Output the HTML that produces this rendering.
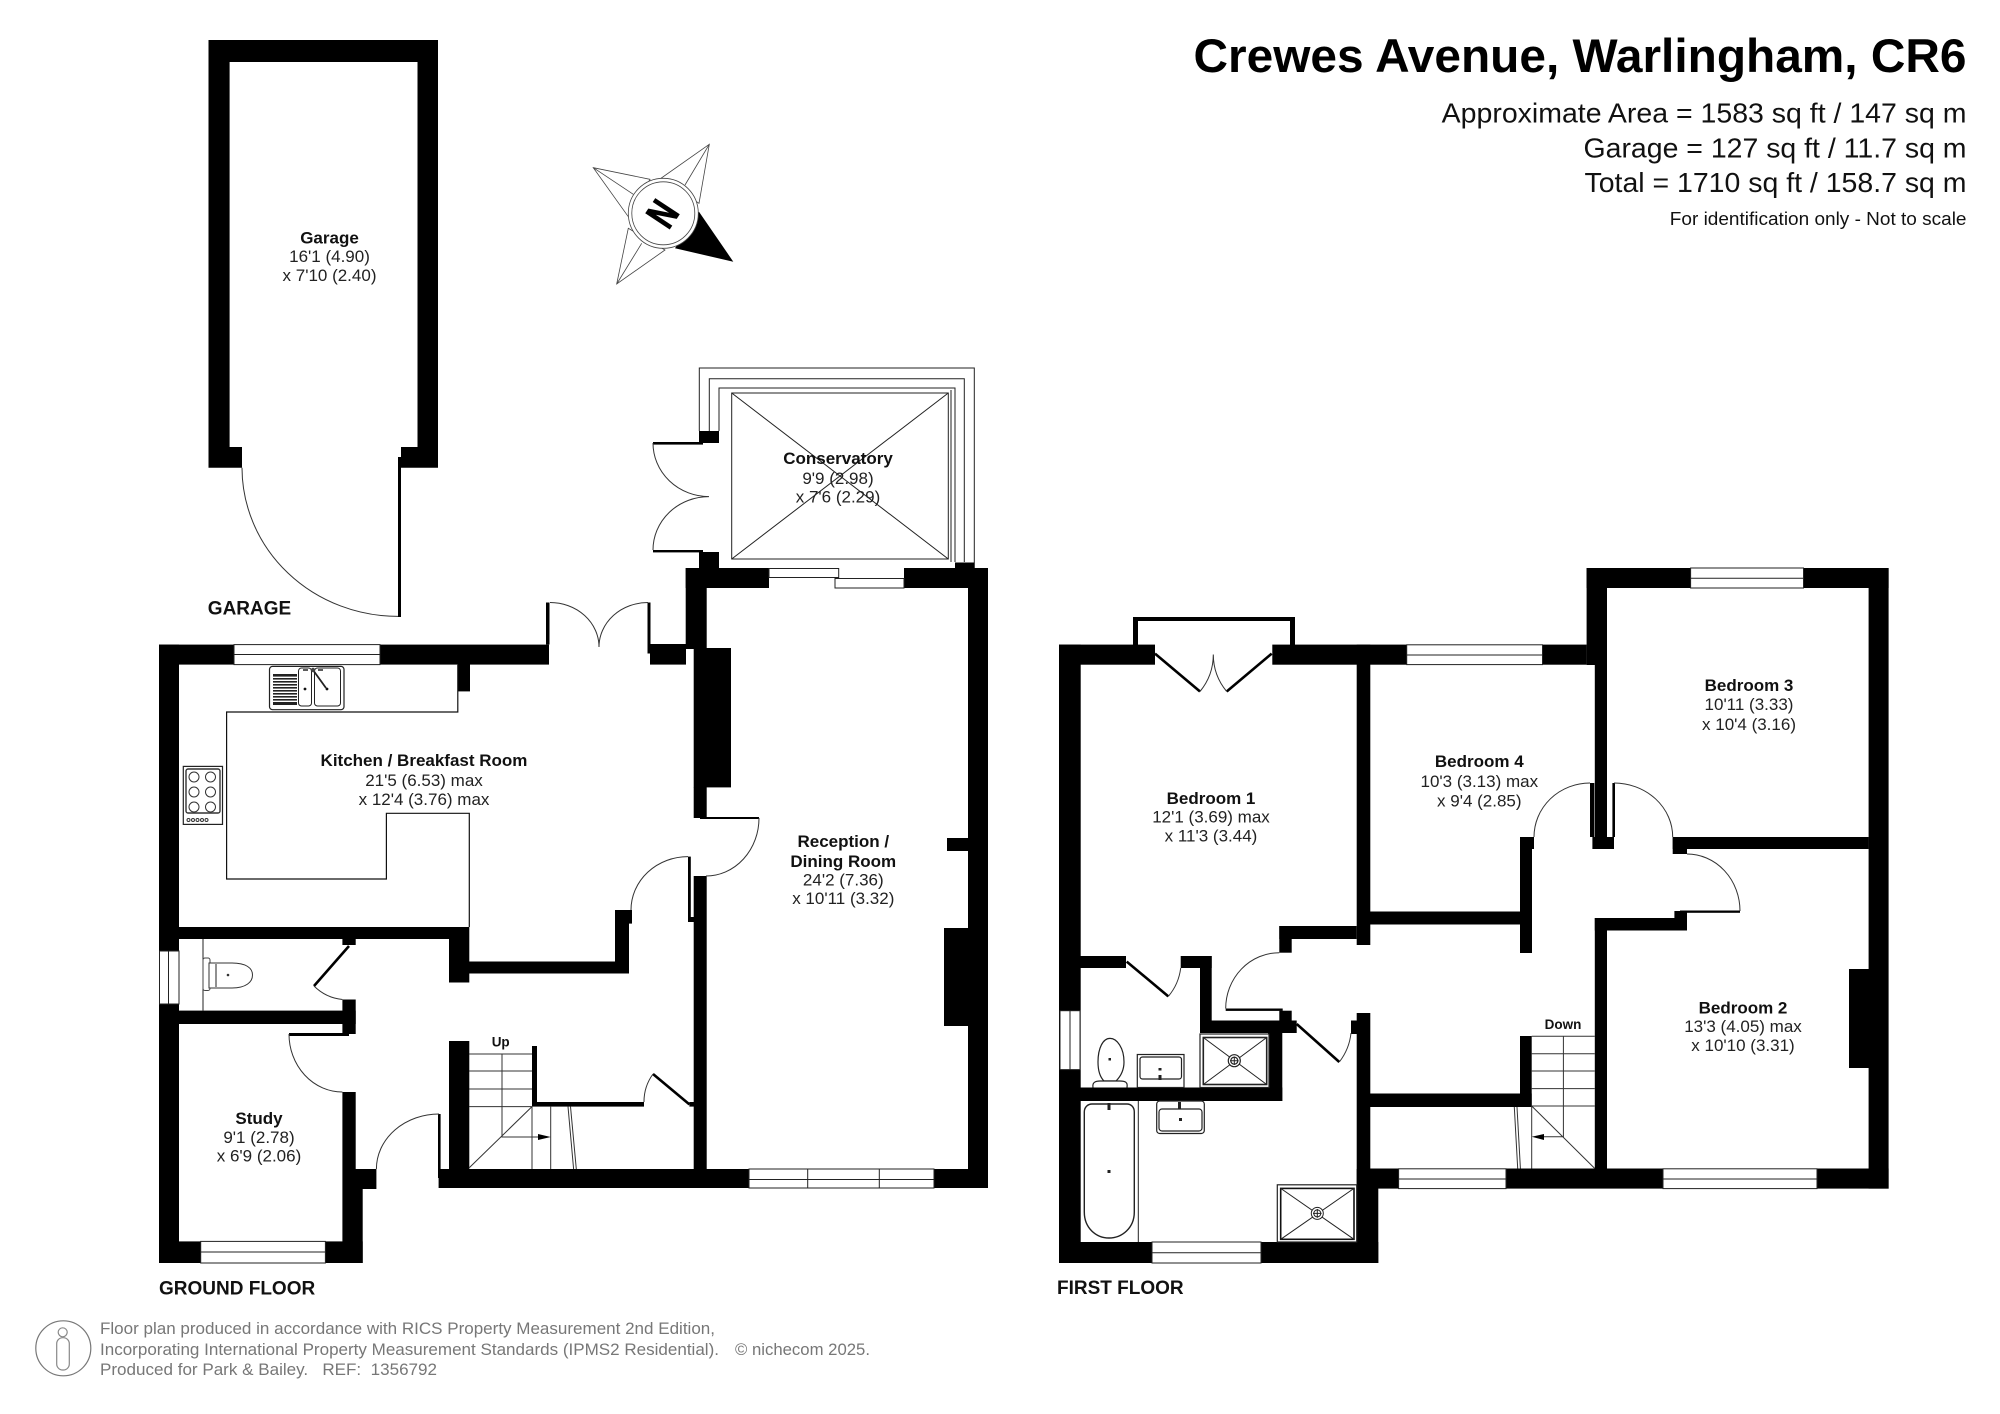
<!DOCTYPE html>
<html><head><meta charset="utf-8"><style>
html,body{margin:0;padding:0;background:#fff}
svg{display:block}
text{font-family:"Liberation Sans",sans-serif;fill:#1a1a1a}
.b{font-weight:bold;font-size:17px;fill:#111}
.t{font-size:17px;fill:#222}
.r{text-anchor:middle}
.k{fill:#000}
.w{fill:#fff;stroke:#222;stroke-width:1}
.l{fill:none;stroke:#222;stroke-width:1}
.a{fill:none;stroke:#333;stroke-width:1}
.f{fill:#fff;stroke:#111;stroke-width:1.4}
.g{font-size:17px;fill:#777}
</style></head><body>
<svg xmlns="http://www.w3.org/2000/svg" width="2000" height="1414" viewBox="0 0 2000 1414">
<rect width="2000" height="1414" fill="#fff"/>

<!-- Garage -->
<path class="k" d="M208.5 40H438V467.7H401V447H417.5V62H229.6V447H242V467.7H208.5Z"/>
<rect class="k" x="398" y="457" width="3" height="160"/>
<path class="a" d="M242 467.7A156 149 0 0 0 398 616.4"/>

<!-- Compass -->
<g fill="#fff" stroke="#444" stroke-width=".8">
<path d="M709.3 144.3L661 178.3 699 203.3ZM593.3 167.7L650 179.3 628.3 216.7ZM616.7 284L628.3 228.3 665 250Z"/>
<path d="M709.3 144.3L685 185M593.3 167.7L633.3 194.3M616.7 284L641.7 243.3"/>
</g>
<path class="k" d="M733.3 261.7L675 248.3 699 211.7Z"/>
<circle cx="663.3" cy="213.3" r="35" fill="#fff" stroke="#444" stroke-width=".8"/>
<circle cx="663.3" cy="213.3" r="31.5" fill="#fff" stroke="#444" stroke-width=".8"/>
<text transform="translate(663.3,214.3) rotate(123.5) scale(.72,1)" y="15" text-anchor="middle" style="font-size:41px;font-weight:bold;fill:#000;stroke:#000;stroke-width:1.2">N</text>

<!-- Conservatory -->
<path class="l" d="M699.3 431V368H974.3V568M709.3 431V378.7H964.3V562M719 431V388H955V562"/>
<rect class="l" x="731.7" y="393" width="216.6" height="166" stroke-width="1.2"/>
<path class="l" d="M731.7 393L948.3 559M948.3 393L731.7 559M951 390V562"/>
<rect class="k" x="699" y="431" width="20" height="12"/>
<rect class="k" x="699" y="552" width="20" height="16"/>
<rect class="k" x="653" y="442" width="50" height="2.6"/>
<rect class="k" x="653" y="550" width="50" height="2.4"/>
<rect class="k" x="955" y="562.5" width="19.3" height="6"/>
<path class="a" d="M653 443A56 53.6 0 0 0 709 496.6A56 53.4 0 0 0 653 550"/>

<!-- Ground floor walls -->
<g class="k">
<rect x="159" y="644.6" width="390" height="20"/>
<rect x="159" y="644.6" width="20" height="618.4"/>
<rect x="546" y="602.5" width="3.5" height="42"/>
<rect x="647.5" y="602.5" width="3" height="51"/>
<rect x="650" y="644" width="36" height="20.6"/>
<rect x="458" y="664" width="12" height="27.4"/>
<rect x="159" y="927" width="310.3" height="12"/>
<rect x="449" y="939" width="20.3" height="43.5"/>
<rect x="469" y="961.5" width="160" height="12"/>
<rect x="615" y="910" width="14" height="63"/>
<rect x="615" y="910" width="17" height="13.6"/>
<rect x="179" y="1010.6" width="176.7" height="13.4"/>
<rect x="342.4" y="999.5" width="13.3" height="34.5"/>
<rect x="342.4" y="939" width="13.3" height="6"/>
<rect x="159" y="1241.4" width="203.7" height="21.6"/>
<rect x="342.4" y="1092" width="13.3" height="77"/>
<rect x="342.4" y="1169" width="34" height="20"/>
<rect x="342.4" y="1189" width="20.3" height="74"/>
<rect x="289" y="1033" width="60" height="3"/>
<rect x="438" y="1114" width="2.6" height="64"/>
<rect x="438.6" y="1169" width="549.4" height="19"/>
<rect x="449" y="1041" width="20.3" height="128"/>
<rect x="532" y="1046" width="5" height="60"/>
<rect x="532" y="1102" width="112" height="4.6"/>
<rect x="689.4" y="1102" width="5" height="4.6"/>
<rect x="685.7" y="568" width="21" height="81"/>
<rect x="693.7" y="648" width="37.3" height="139.4"/>
<rect x="693.7" y="787" width="13" height="31"/>
<rect x="693.7" y="876" width="13" height="293"/>
<rect x="688" y="856.6" width="2.8" height="60.4"/>
<rect x="688" y="917" width="6" height="5"/>
<rect x="700" y="817" width="59" height="2"/>
<rect x="685.7" y="568" width="302.3" height="20"/>
<rect x="968" y="568" width="20" height="620"/>
<rect x="947" y="838" width="21" height="13"/>
<rect x="944" y="928" width="24" height="98"/>
</g>
<path stroke="#000" stroke-width="2.6" fill="none" d="M349 946L314 986M653 1074L689.4 1104.4"/>
<path class="a" d="M314 986A47 47 0 0 0 342.4 999.5M653 1074A47 47 0 0 0 644 1102M289 1034A53.4 58 0 0 0 342.4 1092M439 1114A62.6 55 0 0 0 376.4 1169M688 856.6A57 53.4 0 0 0 631 910M759 818A53 58 0 0 1 706 876M550 602.5A49 44.5 0 0 1 599 647M648 602.5A49 44.5 0 0 0 599 647"/>

<!-- Ground windows -->
<rect class="w" x="234" y="644.6" width="146" height="20"/><path class="l" d="M234 654.5H380"/>
<rect class="w" x="200.7" y="1241.4" width="124.7" height="21.6"/><path class="l" d="M200.7 1252H325.4"/>
<rect class="w" x="159.5" y="951" width="19.5" height="53"/><path class="l" d="M168.5 951V1004"/>
<rect class="w" x="749" y="1169" width="185" height="19"/><path class="l" d="M749 1179.5H934M807.7 1169V1188M879.3 1169V1188"/>
<rect x="769" y="568" width="135" height="20" fill="#fff"/>
<rect class="w" x="769" y="568.5" width="69.7" height="9"/><rect class="w" x="835" y="578.5" width="69" height="9.5"/>

<!-- Kitchen units -->
<path stroke="#111" stroke-width="1.2" fill="none" d="M457.8 664.6V712H226.6V879H386.4V813.3H469.3V927"/>
<rect x="269.5" y="666.4" width="74.5" height="43.3" rx="3" fill="#fff" stroke="#222" stroke-width="1.2"/>
<g fill="#222"><rect x="273" y="674" width="24" height="2.6"/><rect x="273" y="678" width="24" height="1.6"/><rect x="273" y="681" width="24" height="1.6"/><rect x="273" y="684" width="24" height="1.6"/><rect x="273" y="687" width="24" height="1.6"/><rect x="273" y="690" width="24" height="1.6"/><rect x="273" y="693" width="24" height="1.6"/><rect x="273" y="696" width="24" height="1.6"/><rect x="273" y="699" width="24" height="1.6"/><rect x="273" y="702" width="24" height="3"/></g>
<rect x="298.5" y="668" width="13" height="38" rx="3" fill="#fff" stroke="#222"/>
<rect x="314.5" y="668" width="26" height="38" rx="3" fill="#fff" stroke="#222"/>
<circle cx="305" cy="689" r="1.4" fill="#111"/><circle cx="327" cy="689" r="1.4" fill="#111"/>
<path stroke="#222" stroke-width="1.8" d="M313 670L326 688"/><circle cx="313" cy="670" r="2.2" fill="#444"/>
<path stroke="#444" stroke-width="1.8" d="M303 670H308M318 670H323"/>
<rect x="183.3" y="766.4" width="39.2" height="58" fill="#fff" stroke="#222" stroke-width="1.2"/>
<rect x="186" y="769" width="34" height="44" rx="2" fill="#fff" stroke="#333" stroke-width="1.4"/>
<g fill="#fff" stroke="#333" stroke-width="1"><circle cx="194" cy="777" r="5"/><circle cx="210.500" cy="777" r="5"/><circle cx="194" cy="792" r="5"/><circle cx="210.500" cy="792" r="5"/><circle cx="194" cy="807" r="5"/><circle cx="210.500" cy="807" r="5"/><circle cx="188.500" cy="820" r="1.500"/><circle cx="193" cy="820" r="1.500"/><circle cx="197.500" cy="820" r="1.500"/><circle cx="202" cy="820" r="1.500"/><circle cx="206.500" cy="820" r="1.500"/></g>

<!-- WC -->
<path class="l" d="M203 939V1010.6"/>
<rect x="203" y="958" width="7" height="32.500" rx="2" fill="#fff" stroke="#444"/>
<path fill="#fff" stroke="#333" d="M209 963H232C246 963 252.500 968 252.500 975C252.500 982 246 988 232 988H209Z"/><path class="l" d="M216 964V987"/>
<circle cx="228" cy="975" r="1.300" fill="#333"/>

<!-- Stairs ground -->
<path stroke="#333" stroke-width="1" fill="none" d="M469 1054H532M469 1071H532M469 1089H532M469 1106.600H532M502 1054V1137H548M532 1106.600V1169M550.700 1106.600V1169M532 1106.600L469 1168M568 1106.600L573.600 1169M570.500 1106.600L576.300 1169"/>
<path class="k" d="M550.700 1137L538 1134V1140Z"/>

<!-- First floor walls -->
<g class="k">
<rect x="1059" y="644.6" width="96" height="20.100"/>
<rect x="1059" y="644.6" width="21.700" height="618.400"/>
<rect x="1059" y="1242" width="319.300" height="21"/>
<rect x="1133" y="617" width="5" height="28"/>
<rect x="1290" y="617" width="5" height="28"/>
<rect x="1133" y="617" width="162" height="4"/>
<rect x="1272.300" y="644.6" width="314.300" height="20.100"/>
<rect x="1356.700" y="644.6" width="13.600" height="300.400"/>
<rect x="1370" y="911.500" width="150" height="13"/>
<rect x="1279.300" y="926" width="77.400" height="13"/>
<rect x="1279.300" y="926" width="12.400" height="26.700"/>
<rect x="1080" y="956" width="46" height="12"/>
<rect x="1180.700" y="956" width="31" height="12"/>
<rect x="1200" y="956" width="11.700" height="77"/>
<rect x="1200" y="1020.500" width="82.300" height="12.500"/>
<rect x="1279.300" y="1010.700" width="12.400" height="22.300"/>
<rect x="1282" y="1020.500" width="14.700" height="12.500"/>
<rect x="1268" y="1020.500" width="14.300" height="80.500"/>
<rect x="1080" y="1087.500" width="202.300" height="13.500"/>
<rect x="1225.700" y="1008.500" width="57" height="2.400"/>
<rect x="1356.700" y="1013" width="13.600" height="229"/>
<rect x="1351" y="1020.500" width="6" height="13.500"/>
<rect x="1356.700" y="1169" width="21.600" height="94"/>
<rect x="1370" y="1093.500" width="161.700" height="13.500"/>
<rect x="1520" y="1036" width="11.700" height="71"/>
<rect x="1520" y="837" width="12" height="116"/>
<rect x="1520" y="837" width="14" height="12"/>
<rect x="1370" y="1168.500" width="518.600" height="20.100"/>
<rect x="1586.600" y="568" width="302" height="20"/>
<rect x="1586.600" y="568" width="20.400" height="97"/>
<rect x="1594.800" y="660" width="12.200" height="177"/>
<rect x="1590" y="783" width="4.300" height="54"/>
<rect x="1612.400" y="783" width="2.600" height="54"/>
<rect x="1592.400" y="837" width="21.600" height="12"/>
<rect x="1868.600" y="568" width="20" height="620.600"/>
<rect x="1672.700" y="837" width="196" height="12"/>
<rect x="1672.700" y="837" width="14.300" height="17"/>
<rect x="1849" y="969" width="20" height="99"/>
<rect x="1594.800" y="918" width="92.200" height="12.500"/>
<rect x="1674.400" y="911" width="12.600" height="19.500"/>
<rect x="1680" y="910.500" width="60" height="2.300"/>
<rect x="1594.800" y="918" width="12.200" height="251"/>
</g>
<path stroke="#000" stroke-width="2.6" fill="none" d="M1155 653.600L1200 691.500M1271.700 653.600L1226.700 691.500M1126.700 961.600L1168.300 996.400M1296.700 1024L1339.300 1062"/>
<path class="a" d="M1200 691.500A58 58 0 0 0 1213.300 654.500M1226.700 691.500A58 58 0 0 1 1213.300 654.500M1168.300 996.400A54 54 0 0 0 1180.700 968M1225.700 1008.500A53.600 55.800 0 0 1 1279.300 952.700M1339.300 1062A57 57 0 0 0 1351 1033M1590 783A56 54 0 0 0 1534 837M1614 783A58.700 54 0 0 1 1672.700 837M1687 854A53 57 0 0 1 1740 911"/>

<!-- First windows -->
<rect class="w" x="1406.700" y="644.8" width="135.800" height="19.800"/><path class="l" d="M1406.700 655H1542.500"/>
<rect class="w" x="1690.600" y="568" width="112.900" height="20"/><path class="l" d="M1690.600 578.300H1803.500"/>
<rect class="w" x="1398.600" y="1168.800" width="107.400" height="19.800"/><path class="l" d="M1398.600 1179H1506"/>
<rect class="w" x="1663" y="1168.800" width="154" height="19.800"/><path class="l" d="M1663 1179H1817"/>
<rect class="w" x="1152" y="1242" width="109" height="21"/><path class="l" d="M1152 1252.700H1261"/>
<rect class="w" x="1060" y="1010.700" width="20" height="58.900"/><path class="l" d="M1070 1010.700V1069.600"/>

<!-- Stairs first -->
<path stroke="#333" stroke-width="1" fill="none" d="M1531.700 1036.300H1594.800M1531.700 1053.700H1594.800M1531.700 1071H1594.800M1531.700 1088.600H1594.800M1531.700 1106H1594.800M1563.400 1036.300V1136.800H1535M1531.700 1106V1168.500M1531.700 1106L1594.800 1168.500M1514.300 1107L1517.700 1168.500M1517 1107L1520.400 1168.500"/>
<path class="k" d="M1531.700 1136.800L1544 1134V1140Z"/>

<!-- En-suite fixtures -->
<g stroke="#222" fill="#fff" stroke-width="1.200">
<rect x="1200" y="1034" width="69" height="53.500"/>
<rect x="1203.300" y="1037.500" width="63.400" height="47" stroke-width="1.600"/>
<path d="M1203.300 1037.500L1266.700 1084.500M1266.700 1037.500L1203.300 1084.500" stroke-width="1"/>
<circle cx="1234.300" cy="1060.700" r="6"/><circle cx="1234.300" cy="1060.700" r="3.500"/>
<path d="M1230 1060.700H1238.600M1234.300 1056.500V1065" stroke-width="1"/>
<path d="M1098 1062C1098 1048 1103 1038.400 1110 1038.400C1117 1038.400 1124 1048 1124 1062C1124 1072 1119 1078 1116 1081H1104C1101 1078 1098 1072 1098 1062Z"/>
<path d="M1093 1087.500C1092 1082 1096 1081 1100 1081H1120C1125 1081 1128 1082 1127 1087.500"/>
<rect x="1137.300" y="1054.500" width="46.700" height="33"/>
<rect x="1140" y="1057" width="41.500" height="22" rx="2.500"/>
<rect x="1156.700" y="1101" width="47.600" height="32.500" rx="3"/>
<rect x="1159" y="1109" width="43" height="22" rx="3"/>
</g>
<path fill="#fff" stroke="#222" stroke-width="1.400" d="M1084.300 1112C1084.300 1107 1088 1104 1092 1104H1127C1131 1104 1134.300 1107 1134.300 1112V1212C1134.300 1228 1122 1238 1109 1238C1096 1238 1084.300 1228 1084.300 1212Z"/>
<path class="l" d="M1138.300 1101V1242"/>
<rect x="1277.300" y="1184.800" width="79.400" height="57.200" fill="#fff" stroke="#222" stroke-width="1.200"/>
<rect x="1280.700" y="1188.400" width="73.300" height="50.900" fill="#fff" stroke="#111" stroke-width="1.600"/>
<path class="l" d="M1280.700 1188.400L1354 1239.300M1354 1188.400L1280.700 1239.300"/>
<circle cx="1317.300" cy="1213.400" r="6" fill="#fff" stroke="#222"/><circle cx="1317.300" cy="1213.400" r="3.500" fill="#fff" stroke="#222"/><path class="l" d="M1313 1213.400H1321.600M1317.300 1209V1217.800"/>
<g fill="#222"><rect x="1108.500" y="1058" width="2.500" height="2.500"/><rect x="1158.500" y="1068" width="3" height="2.500"/><rect x="1158.500" y="1075" width="3" height="5"/><rect x="1178" y="1102" width="3" height="7"/><rect x="1179" y="1118" width="3" height="3"/><rect x="1107.500" y="1103" width="3" height="7"/><rect x="1107.500" y="1170" width="3" height="3"/></g>

<!-- Labels -->
<text class="b r" x="329.5" y="243.500">Garage</text>
<text class="t r" x="329.5" y="262">16'1 (4.90)</text>
<text class="t r" x="329.5" y="281">x 7'10 (2.40)</text>

<text class="b r" x="838" y="464">Conservatory</text>
<text class="t r" x="838" y="484">9'9 (2.98)</text>
<text class="t r" x="838" y="502.500">x 7'6 (2.29)</text>

<text class="b r" x="424" y="766">Kitchen / Breakfast Room</text>
<text class="t r" x="424" y="786">21'5 (6.53) max</text>
<text class="t r" x="424" y="805">x 12'4 (3.76) max</text>

<text class="b r" x="843.300" y="847">Reception /</text>
<text class="b r" x="843.300" y="866.800">Dining Room</text>
<text class="t r" x="843.300" y="885.600">24'2 (7.36)</text>
<text class="t r" x="843.300" y="903.800">x 10'11 (3.32)</text>

<text class="b r" x="259" y="1123.800">Study</text>
<text class="t r" x="259" y="1143">9'1 (2.78)</text>
<text class="t r" x="259" y="1161.700">x 6'9 (2.06)</text>

<text class="b r" x="1211" y="803.800">Bedroom 1</text>
<text class="t r" x="1211" y="822.500">12'1 (3.69) max</text>
<text class="t r" x="1211" y="841.700">x 11'3 (3.44)</text>

<text class="b r" x="1479.300" y="767">Bedroom 4</text>
<text class="t r" x="1479.300" y="786.800">10'3 (3.13) max</text>
<text class="t r" x="1479.300" y="806.400">x 9'4 (2.85)</text>

<text class="b r" x="1749" y="691">Bedroom 3</text>
<text class="t r" x="1749" y="710">10'11 (3.33)</text>
<text class="t r" x="1749" y="730">x 10'4 (3.16)</text>

<text class="b r" x="1743" y="1013.300">Bedroom 2</text>
<text class="t r" x="1743" y="1032">13'3 (4.05) max</text>
<text class="t r" x="1743" y="1051">x 10'10 (3.31)</text>

<text class="r" x="500.700" y="1046.500" style="font-size:13.500px;font-weight:bold;fill:#111">Up</text>
<text class="r" x="1563" y="1029" style="font-size:13.500px;font-weight:bold;fill:#111">Down</text>

<text x="207.800" y="614.500" style="font-size:19px;font-weight:bold;fill:#111">GARAGE</text>
<text x="159" y="1294.500" style="font-size:19px;font-weight:bold;fill:#111">GROUND FLOOR</text>
<text x="1057" y="1294" style="font-size:19px;font-weight:bold;fill:#111">FIRST FLOOR</text>

<!-- Heading -->
<text x="1193.500" y="72" textLength="773" lengthAdjust="spacingAndGlyphs" style="font-size:47px;font-weight:bold;fill:#000">Crewes Avenue, Warlingham, CR6</text>
<text x="1441.700" y="122.700" textLength="524.800" lengthAdjust="spacingAndGlyphs" style="font-size:28px;fill:#111">Approximate Area = 1583 sq ft / 147 sq m</text>
<text x="1583.500" y="157.700" textLength="383" lengthAdjust="spacingAndGlyphs" style="font-size:28px;fill:#111">Garage = 127 sq ft / 11.7 sq m</text>
<text x="1584.500" y="192" textLength="382" lengthAdjust="spacingAndGlyphs" style="font-size:28px;fill:#111">Total = 1710 sq ft / 158.7 sq m</text>
<text x="1669.800" y="225" textLength="296.700" lengthAdjust="spacingAndGlyphs" style="font-size:18px;fill:#111">For identification only - Not to scale</text>

<!-- Footer -->
<circle cx="63.300" cy="1348.300" r="27.500" fill="none" stroke="#777" stroke-width="1.200"/>
<circle cx="62.700" cy="1332.300" r="4.500" fill="none" stroke="#888" stroke-width="1.200"/>
<rect x="56.700" y="1337.700" width="12.600" height="32.300" rx="6" fill="none" stroke="#888" stroke-width="1.200"/>
<text class="g" x="100" y="1334" textLength="615" lengthAdjust="spacingAndGlyphs">Floor plan produced in accordance with RICS Property Measurement 2nd Edition,</text>
<text class="g" x="100" y="1355" textLength="619" lengthAdjust="spacingAndGlyphs">Incorporating International Property Measurement Standards (IPMS2 Residential).</text>
<text class="g" x="735" y="1355" textLength="135" lengthAdjust="spacingAndGlyphs">© nichecom 2025.</text>
<text class="g" x="100" y="1375" textLength="337" lengthAdjust="spacingAndGlyphs" xml:space="preserve">Produced for Park &amp; Bailey.   REF:  1356792</text>
</svg>
</body></html>
